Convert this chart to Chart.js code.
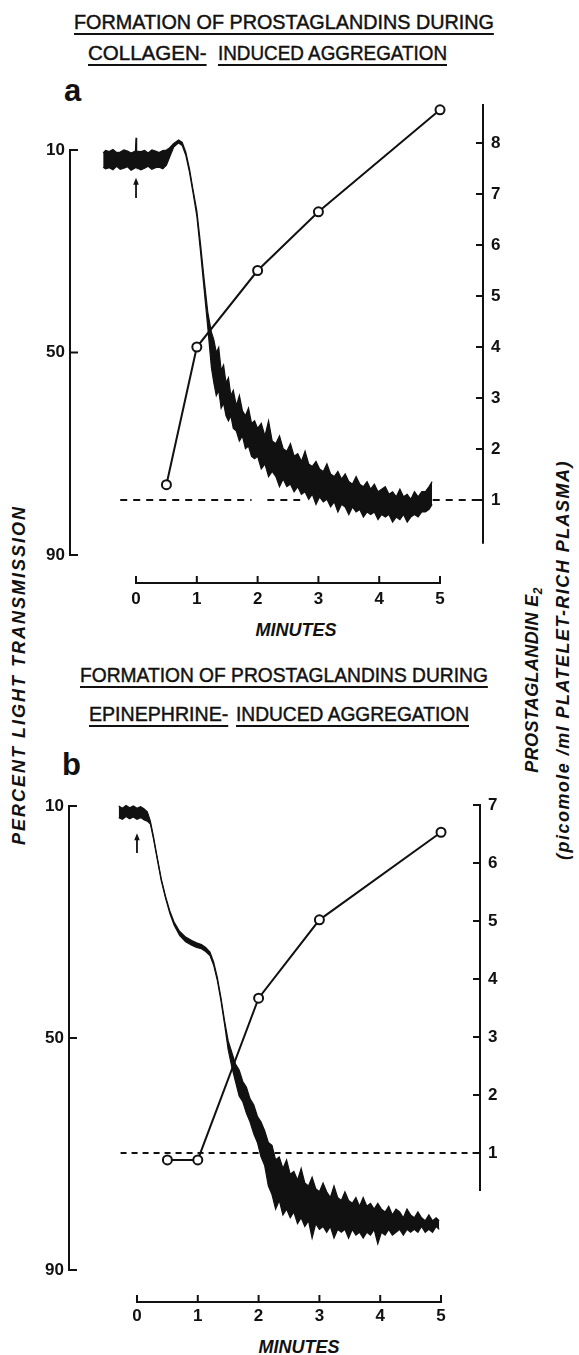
<!DOCTYPE html>
<html>
<head>
<meta charset="utf-8">
<script src="https://cdn.jsdelivr.net/npm/chart.js@4.4.1/dist/chart.umd.min.js"></script>
<style>
  body { margin: 0; background: #fff; width: 579px; height: 1355px; position: relative; overflow: hidden;
         font-family: "Liberation Sans", Arial, sans-serif; color: #111; }
  canvas { position: absolute; left: 0; }
  .t { position: absolute; white-space: nowrap; font-size: 20px; line-height: 20px; transform-origin: 0 0;
       -webkit-text-stroke: 0.45px #111;
       text-decoration: underline; text-decoration-thickness: 2px; text-underline-offset: 4px; }
  .lab { position: absolute; font-weight: bold; font-size: 31px; line-height: 30px; }
  .v { position: absolute; white-space: nowrap; font-weight: bold; font-style: italic; font-size: 18px; line-height: 18px; }
  .m { position: absolute; font-weight: bold; font-style: italic; font-size: 18px; transform: translate(-50%, -50%); }
</style>
</head>
<body>

<div class="t" style="left:74px;top:12px" data-w="420">FORMATION OF PROSTAGLANDINS DURING</div>
<div class="t" style="left:88px;top:43px" data-w="119">COLLAGEN-</div>
<div class="t" style="left:218px;top:43px" data-w="229">INDUCED AGGREGATION</div>
<div class="lab" style="left:64px;top:76px">a</div>

<div class="t" style="left:80px;top:665px" data-w="408">FORMATION OF PROSTAGLANDINS DURING</div>
<div class="t" style="left:89px;top:704px" data-w="139">EPINEPHRINE-</div>
<div class="t" style="left:236px;top:704px" data-w="233">INDUCED AGGREGATION</div>
<div class="lab" style="left:62px;top:750px">b</div>

<div class="v" data-cx="19" data-cy="675" data-len="340">PERCENT LIGHT TRANSMISSION</div>
<div class="v" data-cx="535" data-cy="680" data-len="185">PROSTAGLANDIN E<sub style="font-size:12px">2</sub></div>
<div class="v" data-cx="563" data-cy="660" data-len="400">(picomole /ml PLATELET-RICH PLASMA)</div>

<div class="m" style="left:296px;top:630px">MINUTES</div>
<div class="m" style="left:299px;top:1347px">MINUTES</div>

<canvas id="chartA" width="579" height="650" style="top:0"></canvas>
<canvas id="chartB" width="579" height="705" style="top:650px"></canvas>

<script>
const ink = '#111';

// shared tick labels
const minuteTicks = [0, 1, 2, 3, 4, 5];
const pctTicks = [10, 50, 90];
const pgTicksA = [1, 2, 3, 4, 5, 6, 7, 8];
const pgTicksB = [1, 2, 3, 4, 5, 6, 7];

// --- panel a : collagen ---
const pgTimeA = [0.5, 1, 2, 3, 5];
const pgValueA = [1.3, 4.0, 5.5, 6.65, 8.65];

// aggregometer trace, read as upper / lower edge of the inked band (percent light transmission)
const traceTimeA = [-0.54, -0.5, -0.44, -0.38, -0.32, -0.26, -0.2, -0.14, -0.08, -0.01, 0, 0.01, 0.08, 0.14, 0.2,
  0.26, 0.32, 0.38, 0.44, 0.5, 0.55, 0.62, 0.7, 0.76, 0.82, 0.88, 0.94, 1.0, 1.06, 1.12, 1.18,
  1.24, 1.28, 1.32, 1.36, 1.40, 1.44, 1.48, 1.52, 1.56, 1.60, 1.65, 1.70, 1.75, 1.80, 1.85, 1.90, 1.95, 2.00,
  2.06, 2.12, 2.18, 2.24, 2.30, 2.36, 2.42, 2.48, 2.54, 2.60, 2.66, 2.72, 2.78, 2.84, 2.90, 2.96, 3.02, 3.08,
  3.14, 3.20, 3.26, 3.32, 3.38, 3.44, 3.50, 3.56, 3.62, 3.68, 3.74, 3.80, 3.86, 3.92, 3.98, 4.04, 4.10, 4.16,
  4.22, 4.28, 4.34, 4.40, 4.46, 4.52, 4.58, 4.64, 4.70, 4.76, 4.82, 4.87];
const traceTopA = [10.6, 10.1, 10.3, 9.9, 10.5, 10.4, 10.0, 10.2, 10.6, 10.2, 7.6, 10.2, 10.3, 10.1, 10.6,
  10.0, 10.2, 10.5, 10.1, 10.0, 9.6, 8.7, 8.0, 8.5, 10.5, 13.8, 18, 22, 28.5, 35.5, 42,
  46, 47.5, 50, 49, 53.5, 52.5, 56, 55, 58.5, 57.5, 60.5, 58.5, 61.5, 62.5, 61, 64, 63.5, 65,
  64, 66.5, 63.5, 67.5, 68, 66.5, 69, 69.5, 68, 70.5, 70, 71.5, 69.5, 72, 72.5, 71.5, 73, 73.5,
  72, 74, 74.5, 73.5, 75, 74, 75.5, 76, 74.5, 76, 76.5, 75.5, 77, 76, 77.5, 77, 76.5, 78,
  77.5, 78.5, 77, 78.5, 78, 79, 77.5, 78.5, 77.5, 77.5, 76.5, 75.5];
const traceBottomA = [13.4, 13.7, 13.5, 13.9, 13.2, 13.8, 13.6, 13.3, 14.0, 13.5, 13.3, 13.5, 13.9, 13.6, 13.2,
  13.8, 13.5, 13.4, 13.7, 13.0, 11.5, 9.4, 8.6, 9.1, 11.1, 14.4, 18.6, 23, 30, 37.5, 45,
  53, 56, 58.5, 57.5, 61, 60, 62.5, 63.5, 62.5, 65, 65.5, 67.5, 66.5, 69, 68.5, 70.5, 71, 70.5,
  73, 72, 74.5, 73.5, 74.5, 76.5, 75, 76.5, 76, 77.5, 76.5, 78, 77.5, 79, 78, 80, 78.5, 79.5,
  79, 80.5, 79.5, 81.5, 80, 80.5, 82, 80.5, 81.5, 81, 82.5, 81.5, 82, 81.5, 83, 82, 82.5, 82,
  83.5, 82.5, 83, 82, 83.5, 82.5, 82, 82.5, 81.5, 81.5, 81, 80];

const baseTimeA = [-0.26, 1.9, null, 2.16, 2.7, null, 4.88, 5.7];
const baseValueA = [1, 1, null, 1, 1, null, 1, 1];

// --- panel b : epinephrine ---
const pgTimeB = [0.5, 1, 2, 3, 5];
const pgValueB = [0.88, 0.88, 3.67, 5.02, 6.53];

const traceTimeB = [-0.3, -0.24, -0.18, -0.12, -0.06, 0, 0.06, 0.12, 0.17, 0.22, 0.27, 0.33, 0.4, 0.47, 0.54,
  0.61, 0.7, 0.8, 0.9, 0.98, 1.06, 1.13, 1.2, 1.26, 1.32, 1.38, 1.44,
  1.50, 1.56, 1.62, 1.68, 1.74, 1.80, 1.86, 1.92, 1.98, 2.04, 2.10, 2.16, 2.22, 2.28, 2.34, 2.40, 2.46, 2.52,
  2.58, 2.64, 2.70, 2.76, 2.82, 2.88, 2.94, 3.00, 3.06, 3.12, 3.18, 3.24, 3.30, 3.36, 3.42, 3.48, 3.54, 3.60,
  3.66, 3.72, 3.78, 3.84, 3.90, 3.96, 4.02, 4.08, 4.14, 4.20, 4.26, 4.32, 4.38, 4.44, 4.50, 4.56, 4.62, 4.68,
  4.74, 4.80, 4.86, 4.92, 4.97];
const traceTopB = [10.0, 10.4, 9.9, 10.3, 10.0, 10.4, 10.1, 10.5, 11.0, 12.6, 15.2, 18.7, 22.6, 25.6, 28.1,
  30.0, 31.6, 32.6, 33.2, 33.6, 33.9, 34.4, 35.2, 36.9, 39.5, 43.0, 47.0,
  50.5, 52.5, 54.5, 55.5, 57.5, 58.5, 60.5, 61.5, 63.5, 64.5, 66, 68, 68.5, 71, 70.5, 72.5, 71, 73.5,
  73, 74.5, 72.5, 75, 75.5, 74, 76, 76.5, 75, 76.5, 77.5, 75.5, 77.5, 78, 76.5, 78, 78.5, 77.5,
  79, 77.5, 79, 78.5, 79.5, 78.5, 79.5, 80, 79, 80.5, 79.5, 80, 81, 79.5, 80.5, 81, 80, 81,
  81.5, 80.5, 81.5, 81, 81.5];
const traceBottomB = [12.0, 12.3, 11.8, 12.2, 11.9, 12.3, 12.0, 12.4, 12.6, 13.1, 15.6, 19.0, 22.9, 25.9, 28.5,
  30.5, 32.3, 33.4, 34.0, 34.4, 34.6, 35.1, 35.8, 37.4, 40.0, 43.5, 47.6,
  52, 55, 57.5, 60, 61, 63, 64.5, 66.5, 68, 70.5, 72, 75.5, 77, 79.5, 78, 80.5, 79.5, 81,
  80, 82, 81, 82.5, 81.5, 84.5, 82, 83, 82.5, 83.5, 82.5, 84.5, 83, 83.5, 83, 84.5, 83, 84,
  83.5, 84.5, 83.5, 84, 83, 85.5, 83.5, 84, 83, 84, 83.5, 83, 84, 83, 83.5, 83, 83.5, 82.5,
  83.5, 83, 83.5, 82.5, 83];

const baseTimeB = [-0.27, 5.64];
const baseValueB = [1, 1];

const pts = (xs, ys) => xs.map((x, i) => ({ x: x === null ? (xs[i - 1] + xs[i + 1]) / 2 : x, y: ys[i] }));

// axis frame, x bracket and injection arrow
const framePlugin = {
  id: 'frame',
  beforeDatasetsDraw(chart, args, o) {
    const { ctx, chartArea: { left, right, bottom } } = chart;
    const x = chart.scales.x, yP = chart.scales.yPct, yG = chart.scales.yPg;
    const line = (x1, y1, x2, y2) => { ctx.beginPath(); ctx.moveTo(x1, y1); ctx.lineTo(x2, y2); ctx.stroke(); };
    ctx.save();
    ctx.strokeStyle = ink; ctx.fillStyle = ink; ctx.lineWidth = 2; ctx.lineCap = 'square';
    // left axis, ticks point inward
    line(left, yP.getPixelForValue(pctTicks[0]), left, yP.getPixelForValue(pctTicks[pctTicks.length - 1]));
    pctTicks.forEach(v => { const y = yP.getPixelForValue(v); line(left, y, left + 7, y); });
    // right axis
    line(right, yG.getPixelForValue(o.pgTop), right, yG.getPixelForValue(o.pgBottom));
    o.pgTicks.forEach(v => { const y = yG.getPixelForValue(v); line(right - 6, y, right, y); });
    // minutes bracket
    const x0 = x.getPixelForValue(minuteTicks[0]), x1 = x.getPixelForValue(minuteTicks[minuteTicks.length - 1]);
    line(x0, bottom, x1, bottom);
    minuteTicks.forEach(v => { const px = x.getPixelForValue(v); line(px, bottom, px, bottom - 6); });
    // arrow at time of addition
    const ax = x.getPixelForValue(o.arrow.t), ay1 = yP.getPixelForValue(o.arrow.from), ay2 = yP.getPixelForValue(o.arrow.to);
    ctx.lineWidth = 1.8; ctx.lineCap = 'butt';
    line(ax, ay1, ax, ay2 + 4);
    ctx.beginPath(); ctx.moveTo(ax, ay2); ctx.lineTo(ax - 2.8, ay2 + 7); ctx.lineTo(ax + 2.8, ay2 + 7); ctx.closePath(); ctx.fill();
    ctx.restore();
  }
};

function makePanel(id, p) {
  const H = document.getElementById(id).height;
  const tickFont = { family: '"Liberation Sans", Arial, sans-serif', size: 17, weight: 'bold' };
  return new Chart(document.getElementById(id), {
    type: 'line',
    data: {
      datasets: [
        { data: pts(p.pgTime, p.pgValue), yAxisID: 'yPg', borderColor: ink, borderWidth: 2,
          pointRadius: 4.5, pointBorderWidth: 2, pointBackgroundColor: '#fff', pointBorderColor: ink, clip: false },
        { data: pts(p.traceTime, p.traceTop), yAxisID: 'yPct', borderColor: ink, borderWidth: 1.2, pointRadius: 0 },
        { data: pts(p.traceTime, p.traceBottom), yAxisID: 'yPct', borderColor: ink, borderWidth: 1.2, pointRadius: 0,
          fill: { target: '-1' }, backgroundColor: ink },
        { data: pts(p.baseTime, p.baseValue), yAxisID: 'yPg', borderColor: ink, borderWidth: 1.8, borderDash: p.dash,
          pointRadius: 0, spanGaps: false }
      ]
    },
    options: {
      responsive: false, animation: false, devicePixelRatio: 1,
      layout: { padding: { top: p.top, left: 0, right: 0, bottom: 0 } },
      plugins: { legend: { display: false }, tooltip: { enabled: false }, frame: p.frame },
      elements: { line: { tension: 0 } },
      scales: {
        x: { type: 'linear', min: p.xMin, max: p.xMax,
             afterBuildTicks: s => { s.ticks = minuteTicks.map(v => ({ value: v })); },
             afterFit: s => { s.height = H - p.bottom; },
             grid: { display: false, drawTicks: false }, border: { display: false },
             ticks: { color: ink, font: tickFont, padding: p.xPad, maxRotation: 0, autoSkip: false } },
        yPct: { type: 'linear', position: 'left', reverse: true, min: p.pctMin, max: p.pctMax,
             afterBuildTicks: s => { s.ticks = pctTicks.map(v => ({ value: v })); },
             afterFit: s => { s.width = p.left; },
             grid: { display: false, drawTicks: false }, border: { display: false },
             ticks: { color: ink, font: tickFont, padding: 5 } },
        yPg: { type: 'linear', position: 'right', min: p.pgMin, max: p.pgMax,
             afterBuildTicks: s => { s.ticks = p.frame.pgTicks.map(v => ({ value: v })); },
             afterFit: s => { s.width = 579 - p.right; },
             grid: { display: false, drawTicks: false }, border: { display: false },
             ticks: { color: ink, font: tickFont, padding: 8 } }
      }
    },
    plugins: [framePlugin]
  });
}

makePanel('chartA', {
  pgTime: pgTimeA, pgValue: pgValueA, traceTime: traceTimeA, traceTop: traceTopA, traceBottom: traceBottomA,
  baseTime: baseTimeA, baseValue: baseValueA, dash: [7, 6],
  top: 105, bottom: 583, left: 70, right: 483, xPad: 6,
  xMin: -1.086, xMax: 5.707, pctMin: 1.111, pctMax: 95.53, pgMin: -0.627, pgMax: 8.745,
  frame: { pgTicks: pgTicksA, pgTop: 8.745, pgBottom: 0.16, arrow: { t: 0, from: 19.5, to: 15.5 } }
});

makePanel('chartB', {
  pgTime: pgTimeB, pgValue: pgValueB, traceTime: traceTimeB, traceTop: traceTopB, traceBottom: traceBottomB,
  baseTime: baseTimeB, baseValue: baseValueB, dash: [6, 5],
  top: 150, bottom: 652, left: 69, right: 480, xPad: 4,
  xMin: -1.118, xMax: 5.641, pctMin: 8.966, pctMax: 95.517, pgMin: -1.569, pgMax: 7.086,
  frame: { pgTicks: pgTicksB, pgTop: 7, pgBottom: 0.36, arrow: { t: 0, from: 18.1, to: 14.7 } }
});

// fit title strings to the widths they take in the figure
document.querySelectorAll('.t').forEach(el => {
  el.style.transform = 'scaleX(' + (+el.dataset.w / el.offsetWidth) + ')';
});
// rotated axis titles: spread letters to the length they have, then turn
document.querySelectorAll('.v').forEach(el => {
  const n = el.textContent.length;
  const extra = (+el.dataset.len - el.offsetWidth) / n;
  el.style.letterSpacing = extra.toFixed(2) + 'px';
  el.style.left = el.dataset.cx + 'px';
  el.style.top = el.dataset.cy + 'px';
  el.style.transform = 'translate(-50%, -50%) rotate(-90deg)';
});
</script>
</body>
</html>
